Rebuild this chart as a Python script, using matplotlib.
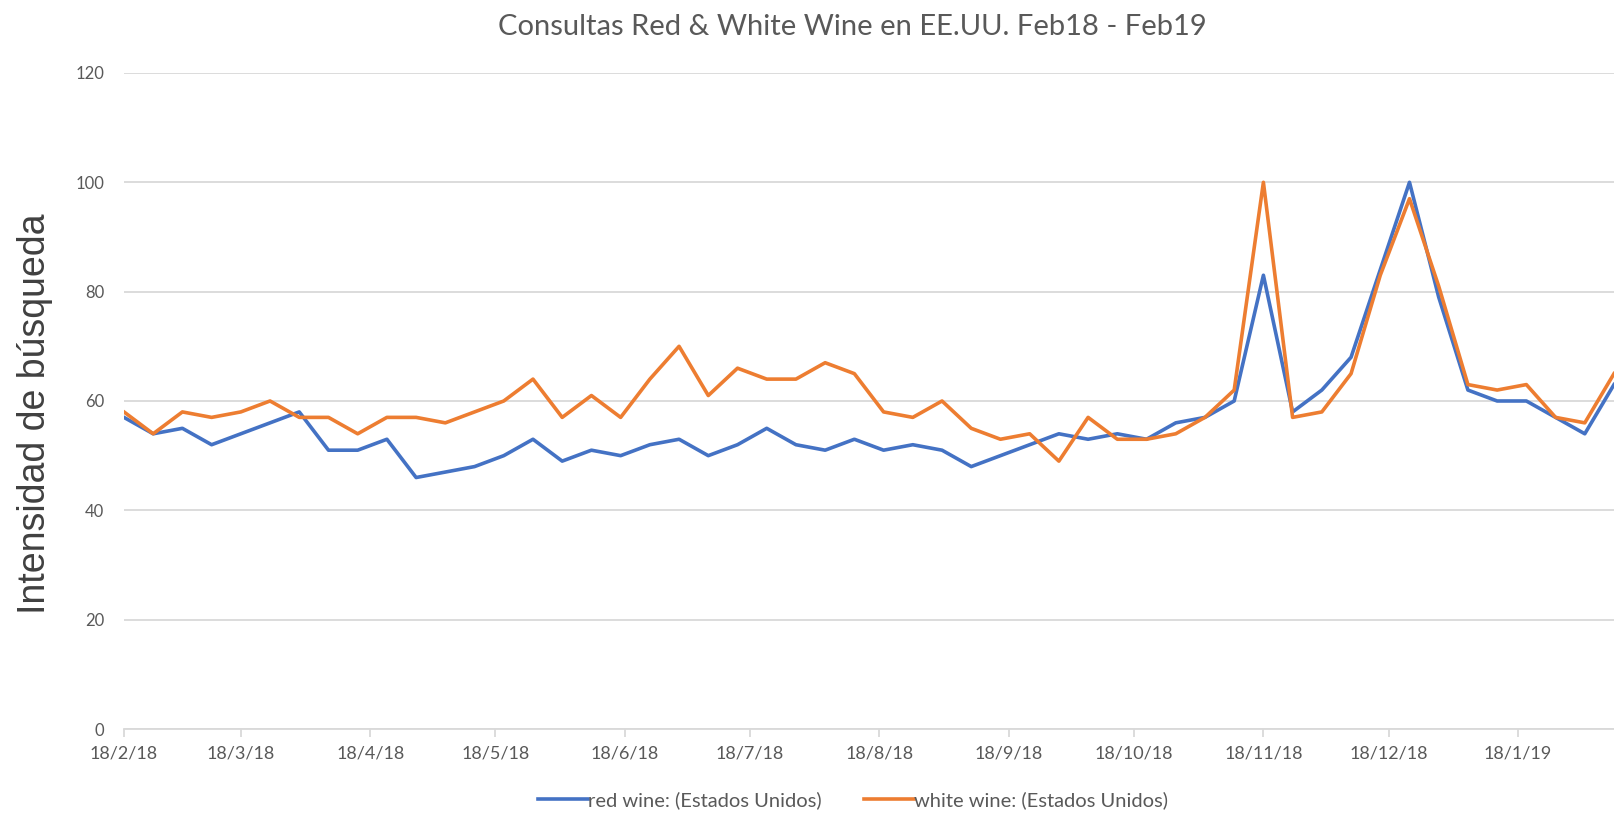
import matplotlib
matplotlib.use("Agg")
import matplotlib.pyplot as plt
import pandas as pd

# Semanas (Google Trends, EE.UU.)
weeks = pd.date_range("2018-02-18", periods=52, freq="7D")

red_wine = [57, 54, 55, 52, 54, 56, 58, 51, 51, 53,
            46, 47, 48, 50, 53, 49, 51, 50, 52, 53,
            50, 52, 55, 52, 51, 53, 51, 52, 51, 48,
            50, 52, 54, 53, 54, 53, 56, 57, 60, 83,
            58, 62, 68, 84, 100, 79, 62, 60, 60, 57,
            54, 63]
white_wine = [58, 54, 58, 57, 58, 60, 57, 57, 54, 57,
              57, 56, 58, 60, 64, 57, 61, 57, 64, 70,
              61, 66, 64, 64, 67, 65, 58, 57, 60, 55,
              53, 54, 49, 57, 53, 53, 54, 57, 62, 100,
              57, 58, 65, 83, 97, 81, 63, 62, 63, 57,
              56, 65]

tick_dates = pd.to_datetime(["2018-02-18", "2018-03-18", "2018-04-18", "2018-05-18",
                             "2018-06-18", "2018-07-18", "2018-08-18", "2018-09-18",
                             "2018-10-18", "2018-11-18", "2018-12-18", "2019-01-18"])
tick_labels = ["18/2/18", "18/3/18", "18/4/18", "18/5/18", "18/6/18", "18/7/18",
               "18/8/18", "18/9/18", "18/10/18", "18/11/18", "18/12/18", "18/1/19"]
y_ticks = [0, 20, 40, 60, 80, 100, 120]

gray_txt = "#595959"
grid_c = "#d9d9d9"
blue = "#4472C4"
orange = "#ED7D31"

fig = plt.figure(figsize=(16.14, 8.17), dpi=100)
ax = fig.add_axes([0.0768, 0.1077, 1 - 0.0768, 0.803])

ax.plot(weeks, red_wine, color=blue, lw=2.6, label="red wine: (Estados Unidos)")
ax.plot(weeks, white_wine, color=orange, lw=2.6, label="white wine: (Estados Unidos)")

ax.set_xlim(weeks[0], weeks[-1])
ax.set_ylim(0, 120)
ax.set_yticks(y_ticks)
ax.set_yticklabels([str(v) for v in y_ticks], family="Lato", fontsize=12, color=gray_txt)
ax.set_xticks(tick_dates)
ax.set_xticklabels(tick_labels, family="Lato", fontsize=13, color=gray_txt)

ax.yaxis.grid(True, color=grid_c, lw=1.3)
ax.set_axisbelow(True)
for s in ["top", "right", "left"]:
    ax.spines[s].set_visible(False)
ax.spines["bottom"].set_color(grid_c)
ax.spines["bottom"].set_linewidth(1.3)
ax.tick_params(axis="y", length=0, pad=14)
ax.tick_params(axis="x", length=6, color=grid_c, width=1.3, pad=6)

# etiqueta del eje Y añadida a mano
fig.text(0.0217, 0.493, "Intensidad de búsqueda", rotation=90, ha="center", va="center",
         family="Liberation Sans", fontsize=27, color="#404040")

fig.text(0.528, 0.967, "Consultas Red & White Wine en EE.UU. Feb18 - Feb19",
         ha="center", va="center", family="Lato", fontsize=21, color=gray_txt)

leg = fig.legend(loc="center", bbox_to_anchor=(0.5285, 0.021), ncol=2, frameon=False,
                 handlelength=2.45, handletextpad=0.0, columnspacing=2.15,
                 prop={"family": "Lato", "size": 14.5})
for t in leg.get_texts():
    t.set_color(gray_txt)

fig.savefig("out.png", dpi=100)
